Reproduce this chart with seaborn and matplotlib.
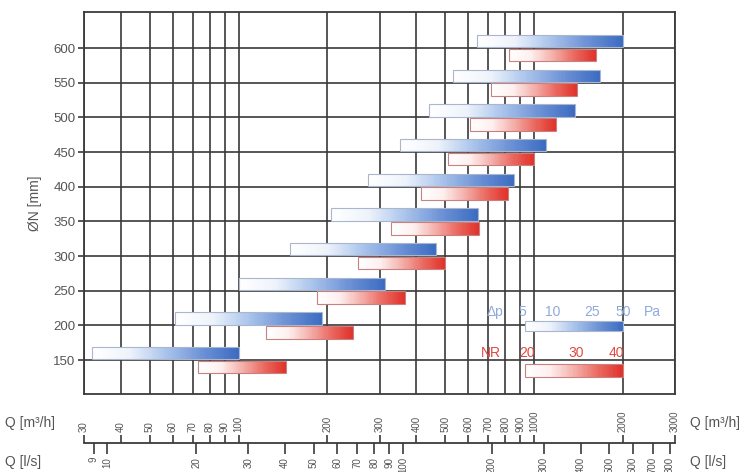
import numpy as np
import matplotlib
matplotlib.use("Agg")
import matplotlib.pyplot as plt
import seaborn as sns
from matplotlib.ticker import NullLocator, FixedLocator

# Nominal diameters and air-flow ranges [m3/h]
diameters = [150, 200, 250, 300, 350, 400, 450, 500, 550, 600]
dp_start = [32, 61, 100, 149, 206, 274, 352, 441, 532, 641]
dp_end = [100, 192, 313, 466, 646, 855, 1098, 1376, 1672, 2000]
nr_start = [73, 124, 184, 254, 328, 414, 512, 607, 715, 822]
nr_end = [145, 244, 366, 500, 652, 816, 1000, 1187, 1398, 1620]

# axis ticks
q_m3h_ticks = [30, 40, 50, 60, 70, 80, 90, 100, 200, 300, 400, 500, 600,
               700, 800, 900, 1000, 2000, 3000]
q_ls_ticks = [9, 10, 20, 30, 40, 50, 60, 70, 80, 90, 100, 200, 300, 400,
              500, 600, 700, 800]
dn_ticks = [150, 200, 250, 300, 350, 400, 450, 500, 550, 600]

# legend scales
dp_labels = ["\u0394p", "5", "10", "25", "50", "Pa"]
dp_label_q = [738, 910, 1158, 1572, 2000, 2506]
nr_labels = ["NR", "20", "30", "40"]
nr_label_q = [712, 946, 1387, 1894]

BLUE = "#3c6cc2"
RED = "#e0322a"
GRID = "#3a3a3a"
TEXT = "#555555"

sns.set_theme(style="white")
plt.rcParams["font.family"] = ["Liberation Sans", "DejaVu Sans"]

blue_cmap = sns.blend_palette(["#ffffff", "#eef3fb", "#aac4ec", "#6e93d6", BLUE],
                              as_cmap=True)
red_cmap = sns.blend_palette(["#ffffff", "#fdf0ef", "#f4b1ac", "#ea6a61", RED],
                             as_cmap=True)


def gradient_bar(ax, x0, x1, y0, y1, cmap, edge):
    """Barra horizontal com gradiente branco -> cor (espacamento log)."""
    xs = np.geomspace(x0, x1, 80)
    vals = np.linspace(0, 1, len(xs) - 1)[None, :]
    ax.pcolormesh(xs, [y0, y1], vals, cmap=cmap, vmin=0, vmax=1,
                  shading="flat", zorder=3)
    ax.barh((y0 + y1) / 2, x1 - x0, left=x0, height=y1 - y0, fill=False,
            edgecolor=edge, linewidth=0.8, zorder=4)


fig = plt.figure(figsize=(7.5, 4.72), dpi=100)
ax = fig.add_axes([84 / 750, 1 - 394 / 472, 591 / 750, 382 / 472])

ax.set_xscale("log")
ax.set_xlim(30, 3000)
ax.set_ylim(101, 652)

ax.xaxis.set_major_locator(FixedLocator(q_m3h_ticks))
ax.xaxis.set_minor_locator(NullLocator())
ax.set_yticks(dn_ticks)
ax.tick_params(axis="x", length=0, labelbottom=False)
ax.tick_params(axis="y", length=4, width=1.2, color=GRID, labelsize=9.5,
               labelcolor=TEXT, pad=2, left=True)
ax.grid(True, color=GRID, linewidth=1.2)
ax.set_axisbelow(True)
for sp in ax.spines.values():
    sp.set_color(GRID)
    sp.set_linewidth(1.3)
ax.set_ylabel("\u00d8N [mm]", color=TEXT, fontsize=10, labelpad=8)

for dn, b0, b1, r0, r1 in zip(diameters, dp_start, dp_end, nr_start, nr_end):
    gradient_bar(ax, b0, b1, dn + 1, dn + 19, blue_cmap, "#a9b6cc")
    gradient_bar(ax, r0, r1, dn - 19, dn - 1, red_cmap, "#c98080")

# legenda
gradient_bar(ax, 930, 2000, 192, 206, blue_cmap, "#a9b6cc")
gradient_bar(ax, 930, 2000, 125, 144, red_cmap, "#c98080")
for lab, q in zip(dp_labels, dp_label_q):
    ax.text(q, 219, lab, color="#8eaadb", fontsize=10, ha="center",
            va="center", zorder=5)
for lab, q in zip(nr_labels, nr_label_q):
    ax.text(q, 160, lab, color="#e04a40", fontsize=10, ha="center",
            va="center", zorder=5)

# eixo inferior com as duas escalas de vazao
axq = fig.add_axes([84 / 750, 1 - 443 / 472, 591 / 750, 1e-4])
axq.set_xscale("log")
axq.set_xlim(30, 3000)
axq.set_yticks([])
for side in ["left", "right", "bottom"]:
    axq.spines[side].set_visible(False)
axq.spines["top"].set_color(GRID)
axq.spines["top"].set_linewidth(1.3)
axq.patch.set_alpha(0)
axq.xaxis.tick_top()
axq.xaxis.set_major_locator(FixedLocator(q_m3h_ticks))
axq.xaxis.set_minor_locator(NullLocator())
axq.set_xticklabels([str(t) for t in q_m3h_ticks], rotation=90)
axq.tick_params(axis="x", length=6, width=1.2, color=GRID, labelsize=7,
                labelcolor=TEXT, pad=2)

sec = axq.secondary_xaxis("bottom", functions=(lambda q: q / 3.6,
                                               lambda l: l * 3.6))
sec.xaxis.set_major_locator(FixedLocator(q_ls_ticks))
sec.xaxis.set_minor_locator(NullLocator())
sec.set_xticklabels([str(t) for t in q_ls_ticks], rotation=90)
sec.tick_params(axis="x", length=8, width=1.2, color=GRID, labelsize=7,
                labelcolor=TEXT, pad=2)
sec.spines["bottom"].set_visible(False)

fig.text(5 / 750, 1 - 423 / 472, "Q [m\u00b3/h]", color=TEXT, fontsize=10,
         va="center", ha="left")
fig.text(5 / 750, 1 - 462 / 472, "Q [l/s]", color=TEXT, fontsize=10,
         va="center", ha="left")
fig.text(690 / 750, 1 - 423 / 472, "Q [m\u00b3/h]", color=TEXT, fontsize=10,
         va="center", ha="left")
fig.text(690 / 750, 1 - 462 / 472, "Q [l/s]", color=TEXT, fontsize=10,
         va="center", ha="left")

fig.savefig("out.png", dpi=100)
plt.close(fig)
